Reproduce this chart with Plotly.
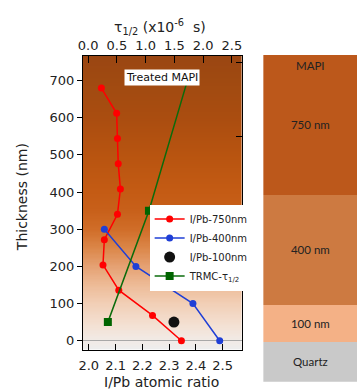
import numpy as np
import plotly.graph_objects as go

# ---------------- data ----------------
thk_750 = [680, 612, 544, 476, 408, 340, 272, 204, 136, 68, 0]
ipb_750 = [2.047, 2.104, 2.107, 2.110, 2.118, 2.107, 2.058, 2.053, 2.112, 2.238, 2.346]

thk_400 = [300, 200, 100, 0]
ipb_400 = [2.058, 2.176, 2.389, 2.489]

thk_100 = [50]
ipb_100 = [2.318]

thk_trmc = [50, 350, 700]
tau_trmc = [0.343, 1.058, 1.727]

# schematic stack (bottom to top)
layer_names = ["Quartz", "100 nm", "400 nm", "750 nm"]
layer_heights = [108, 98, 297, 377]
layer_colors = ["#c9c9c9", "#f4b186", "#cd7a41", "#bc581b"]

# background gradient (thickness -> colour)
grad_vals = [-24, 0, 40, 100, 150, 200, 250, 300, 350, 400, 500, 600, 700, 767]
grad_cols = ["#ededed", "#f1ebe7", "#f3e1d4", "#f2cfb6", "#edbb97", "#e5a173",
             "#db8648", "#d06d28", "#c8601a", "#c45b14", "#b85410", "#aa4d10",
             "#a04a11", "#9a4612"]

xb_ticks = [2.0, 2.1, 2.2, 2.3, 2.4, 2.5]
xt_ticks = [0.0, 0.5, 1.0, 1.5, 2.0, 2.5]
y_ticks = [0, 100, 200, 300, 400, 500, 600, 700]
yr_ticks = [150, 350, 550, 750]

# ---------------- figure ----------------
FONT = "DejaVu Sans"
xr = [1.978, 2.571]
xr2 = [-0.091, 2.671]
yr = [-23.7, 767]
XDOM = [0.2201, 0.6685]
YDOM = [0.1084, 0.8579]

zmin, zmax = grad_vals[0], grad_vals[-1]
cscale = [[(v - zmin) / (zmax - zmin), c] for v, c in zip(grad_vals, grad_cols)]
y_edges = np.linspace(yr[0], yr[1], 241)
y_mid = (y_edges[:-1] + y_edges[1:]) / 2
z = [[v] for v in y_mid]

fig = go.Figure()
# background gradient on its own (lowest) subplot
fig.add_trace(go.Heatmap(x=xr, y=y_edges, z=z, zmin=zmin, zmax=zmax,
                         colorscale=cscale, showscale=False, hoverinfo="skip",
                         showlegend=False, xaxis="x", yaxis="y"))

fig.add_trace(go.Scatter(x=ipb_750, y=thk_750, mode="lines+markers", name="I/Pb-750nm",
                         line=dict(color="#ff0000", width=1.5),
                         marker=dict(color="#ff0000", size=7, symbol="circle"),
                         xaxis="x4", yaxis="y4"))
fig.add_trace(go.Scatter(x=ipb_400, y=thk_400, mode="lines+markers", name="I/Pb-400nm",
                         line=dict(color="#1f3fd6", width=1.5),
                         marker=dict(color="#1f3fd6", size=7, symbol="circle"),
                         xaxis="x4", yaxis="y4"))
fig.add_trace(go.Scatter(x=ipb_100, y=thk_100, mode="markers", name="I/Pb-100nm",
                         marker=dict(color="#111111", size=11, symbol="circle"),
                         xaxis="x4", yaxis="y4"))
fig.add_trace(go.Scatter(x=tau_trmc, y=thk_trmc, mode="lines+markers",
                         name="TRMC-τ<sub>1/2</sub>",
                         line=dict(color="#0b6b0b", width=1.5),
                         marker=dict(color="#006400", size=8, symbol="square"),
                         xaxis="x2", yaxis="y2"))

for name, h, c in zip(layer_names, layer_heights, layer_colors):
    fig.add_trace(go.Bar(x=[0], y=[h], width=1, marker=dict(color=c, line=dict(width=0)),
                         text=[name], textposition="inside", insidetextanchor="middle",
                         textangle=0, constraintext="none",
                         textfont=dict(family="Lato", size=11.5, color="#222222"),
                         showlegend=False, hoverinfo="skip",
                         xaxis="x3", yaxis="y3"))

axis_common = dict(showgrid=False, showline=True, linecolor="#000000", linewidth=1,
                   tickcolor="#000000", tickfont=dict(family=FONT, size=13, color="#222222"))

title_font = dict(family=FONT, size=14, color="#222222")

fig.update_layout(
    width=359, height=392,
    margin=dict(l=0, r=0, t=0, b=0),
    paper_bgcolor="white", plot_bgcolor="rgba(0,0,0,0)",
    font=dict(family=FONT, color="#222222"),
    barmode="stack", bargap=0,
    # gradient subplot (hidden axes)
    xaxis=dict(domain=XDOM, range=xr, anchor="y", visible=False),
    yaxis=dict(domain=YDOM, range=yr, anchor="x", visible=False),
    # data subplot
    xaxis4=dict(domain=XDOM, range=xr, anchor="y4", tickvals=xb_ticks,
                tickformat=".1f", ticks="inside", ticklen=6, zeroline=False,
                ticklabelstandoff=4, **axis_common),
    yaxis4=dict(domain=YDOM, range=yr, anchor="x4", tickvals=y_ticks,
                ticks="outside", ticklen=5, zeroline=True, zerolinecolor="#a8a8a8",
                zerolinewidth=1, **axis_common),
    xaxis2=dict(overlaying="x4", side="top", anchor="y4", range=xr2, tickvals=xt_ticks,
                tickformat=".1f", ticks="inside", ticklen=7, zeroline=False,
                **axis_common),
    yaxis2=dict(overlaying="y4", side="right", anchor="x4", range=yr, tickvals=yr_ticks,
                showticklabels=False, ticks="inside", ticklen=6, zeroline=False,
                **axis_common),
    xaxis3=dict(domain=[0.7298, 0.995], range=[-0.5, 0.5], anchor="y3", visible=False),
    yaxis3=dict(domain=[0.0263, 0.8597], range=[0, sum(layer_heights)], anchor="x3",
                visible=False),
    legend=dict(x=0.4086, y=0.478, xanchor="left", yanchor="top", traceorder="normal",
                bgcolor="white", borderwidth=0, tracegroupgap=0, itemwidth=30,
                font=dict(family=FONT, size=10, color="#222222")),
    annotations=[
        dict(text="Treated MAPI", xref="paper", yref="paper", x=0.443, y=0.823,
             showarrow=False, bgcolor="white", borderpad=1,
             font=dict(family=FONT, size=11, color="#111111")),
        dict(text="MAPI", xref="x3", yref="y3", x=0, y=853, showarrow=False,
             font=dict(family="Lato", size=11.5, color="#222222")),
        # axis titles
        dict(text="τ<sub>1/2</sub> (x10<sup>-6</sup>  s)", xref="paper", yref="paper",
             x=0.437, y=0.93, xanchor="center", yanchor="middle", showarrow=False,
             font=title_font),
        dict(text="I/Pb atomic ratio", xref="paper", yref="paper",
             x=0.443, y=0.0, xanchor="center", yanchor="bottom", showarrow=False,
             font=title_font),
        dict(text="Thickness (nm)", xref="paper", yref="paper", textangle=-90,
             x=0.048, y=0.497, xanchor="center", yanchor="middle", showarrow=False,
             font=title_font),
    ],
)

fig.write_html("out.html")
